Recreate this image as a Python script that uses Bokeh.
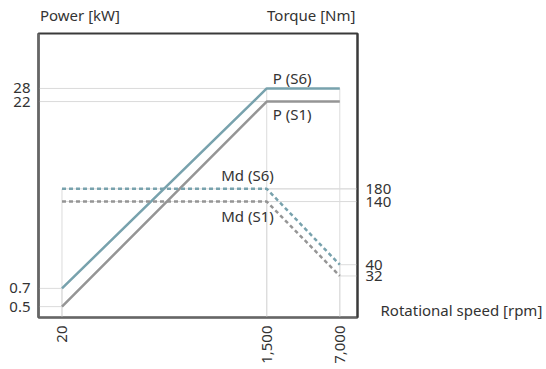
from bokeh.plotting import figure
from bokeh.models import (Range1d, LogScale, LinearScale, LogAxis, LinearAxis,
                          FixedTicker, NumeralTickFormatter)
from bokeh.embed import file_html
from bokeh.resources import INLINE
from bokeh.core.properties import value
from math import pi

# ---- data ----
speed = [20, 1500, 7000]                 # rpm
power_s6 = [0.7, 28, 28]                 # kW
power_s1 = [0.5, 22, 22]                 # kW
torque_s6 = [180, 180, 40]               # Nm
torque_s1 = [140, 140, 32]               # Nm
speed_ticks = [20, 1500, 7000]
power_ticks = [0.5, 0.7, 22, 28]
torque_ticks = [32, 40, 140, 180]
series_labels = ["P (S6)", "P (S1)", "Md (S6)", "Md (S1)"]
axis_titles = ["Power [kW]", "Torque [Nm]", "Rotational speed [rpm]"]

FONT = "Noto Sans"
FS = "15px"
TXT = "#333333"
C_S6 = "#78A2AD"
C_S1 = "#959595"
GRID = "#DCDCDC"

x_rng = Range1d(12.19, 10170)
yl_rng = Range1d(0.409, 77.2)
yr_rng = Range1d(14.04, 3920)

p = figure(frame_width=319, frame_height=284, x_axis_type="log", y_axis_type="log",
           x_range=x_rng, y_range=yl_rng,
           output_backend="svg", toolbar_location=None,
           min_border_left=38, min_border_right=185,
           min_border_top=33, min_border_bottom=48)
p.extra_y_ranges = {"torque": yr_rng, "titles_y": Range1d(0, 1)}
p.extra_y_scales = {"torque": LogScale(), "titles_y": LinearScale()}
p.extra_x_ranges = {"titles_x": Range1d(0, 1)}
p.extra_x_scales = {"titles_x": LinearScale()}

p.xgrid.visible = False
p.ygrid.visible = False
p.outline_line_color = "#3A3A3A"
p.outline_line_width = 2
p.background_fill_color = "white"
p.border_fill_color = "white"

# drop lines (from data)
p.segment(x0=[x_rng.start] * len(speed), y0=power_s6, x1=speed, y1=power_s6, line_color=GRID, line_width=1)
p.segment(x0=[x_rng.start] * len(speed), y0=power_s1, x1=speed, y1=power_s1, line_color=GRID, line_width=1)
p.segment(x0=speed, y0=[yl_rng.start] * len(speed), x1=speed, y1=power_s6, line_color=GRID, line_width=1)
p.segment(x0=speed, y0=torque_s6, x1=[x_rng.end] * len(speed), y1=torque_s6, line_color=GRID, line_width=1, y_range_name="torque")
p.segment(x0=speed, y0=torque_s1, x1=[x_rng.end] * len(speed), y1=torque_s1, line_color=GRID, line_width=1, y_range_name="torque")
p.segment(x0=speed, y0=[yr_rng.start] * len(speed), x1=speed, y1=torque_s6, line_color=GRID, line_width=1, y_range_name="torque")

# curves
p.line(speed, power_s1, line_color=C_S1, line_width=2.5)
p.line(speed, power_s6, line_color=C_S6, line_width=2.5)
p.line(speed, torque_s1, line_color=C_S1, line_width=2.5, line_dash="4 3", y_range_name="torque")
p.line(speed, torque_s6, line_color=C_S6, line_width=2.5, line_dash="4 3", y_range_name="torque")

# series labels
tkw = dict(text_font=value(FONT), text_font_size=FS, text_color=TXT, text_baseline="middle")
p.text(x=[speed[1]], y=[power_s6[1]], text=[series_labels[0]], x_offset=6, y_offset=-10, text_align="left", **tkw)
p.text(x=[speed[1]], y=[power_s1[1]], text=[series_labels[1]], x_offset=6, y_offset=12, text_align="left", **tkw)
p.text(x=[speed[1]], y=[torque_s6[1]], text=[series_labels[2]], x_offset=7, y_offset=-14, text_align="right", y_range_name="torque", **tkw)
p.text(x=[speed[1]], y=[torque_s1[1]], text=[series_labels[3]], x_offset=7, y_offset=14, text_align="right", y_range_name="torque", **tkw)

# axes
right = LogAxis(y_range_name="torque")
p.add_layout(right, "right")

for ax, ticks, fmt in ((p.xaxis[0], speed_ticks, "0,0"), (p.yaxis[0], power_ticks, "0.[0]"), (right, torque_ticks, "0")):
    ax.ticker = FixedTicker(ticks=ticks)
    ax.formatter = NumeralTickFormatter(format=fmt)
    ax.major_tick_line_color = None
    ax.minor_tick_line_color = None
    ax.major_tick_out = 0
    ax.major_tick_in = 0
    ax.minor_tick_out = 0
    ax.major_label_standoff = 8
    ax.major_label_text_font = FONT
    ax.major_label_text_font_size = FS
    ax.major_label_text_color = TXT

p.xaxis[0].major_label_orientation = pi / 2
p.xaxis[0].axis_line_color = "#666666"
p.xaxis[0].axis_line_width = 2
p.yaxis[0].axis_line_color = "#666666"
p.yaxis[0].axis_line_width = 2.5
right.axis_line_color = "#3A3A3A"
right.axis_line_width = 2

# axis titles (drawn as axis labels so they can sit outside the frame)
pos_power, pos_torque, pos_speed = 0.13, 0.855, 0.025
top_titles = LinearAxis(x_range_name="titles_x",
                        ticker=FixedTicker(ticks=[pos_power, pos_torque]),
                        major_label_overrides={pos_power: axis_titles[0], pos_torque: axis_titles[1]})
speed_title = LinearAxis(y_range_name="titles_y",
                         ticker=FixedTicker(ticks=[pos_speed]),
                         major_label_overrides={pos_speed: axis_titles[2]})
for ax, so in ((top_titles, 9), (speed_title, -14)):
    ax.axis_line_color = None
    ax.major_tick_line_color = None
    ax.minor_tick_line_color = None
    ax.major_tick_out = 0
    ax.major_tick_in = 0
    ax.minor_tick_out = 0
    ax.major_label_standoff = so
    ax.major_label_text_font = FONT
    ax.major_label_text_font_size = FS
    ax.major_label_text_color = TXT
p.add_layout(top_titles, "above")
p.add_layout(speed_title, "right")

open("out.html", "w").write(file_html(p, INLINE))
